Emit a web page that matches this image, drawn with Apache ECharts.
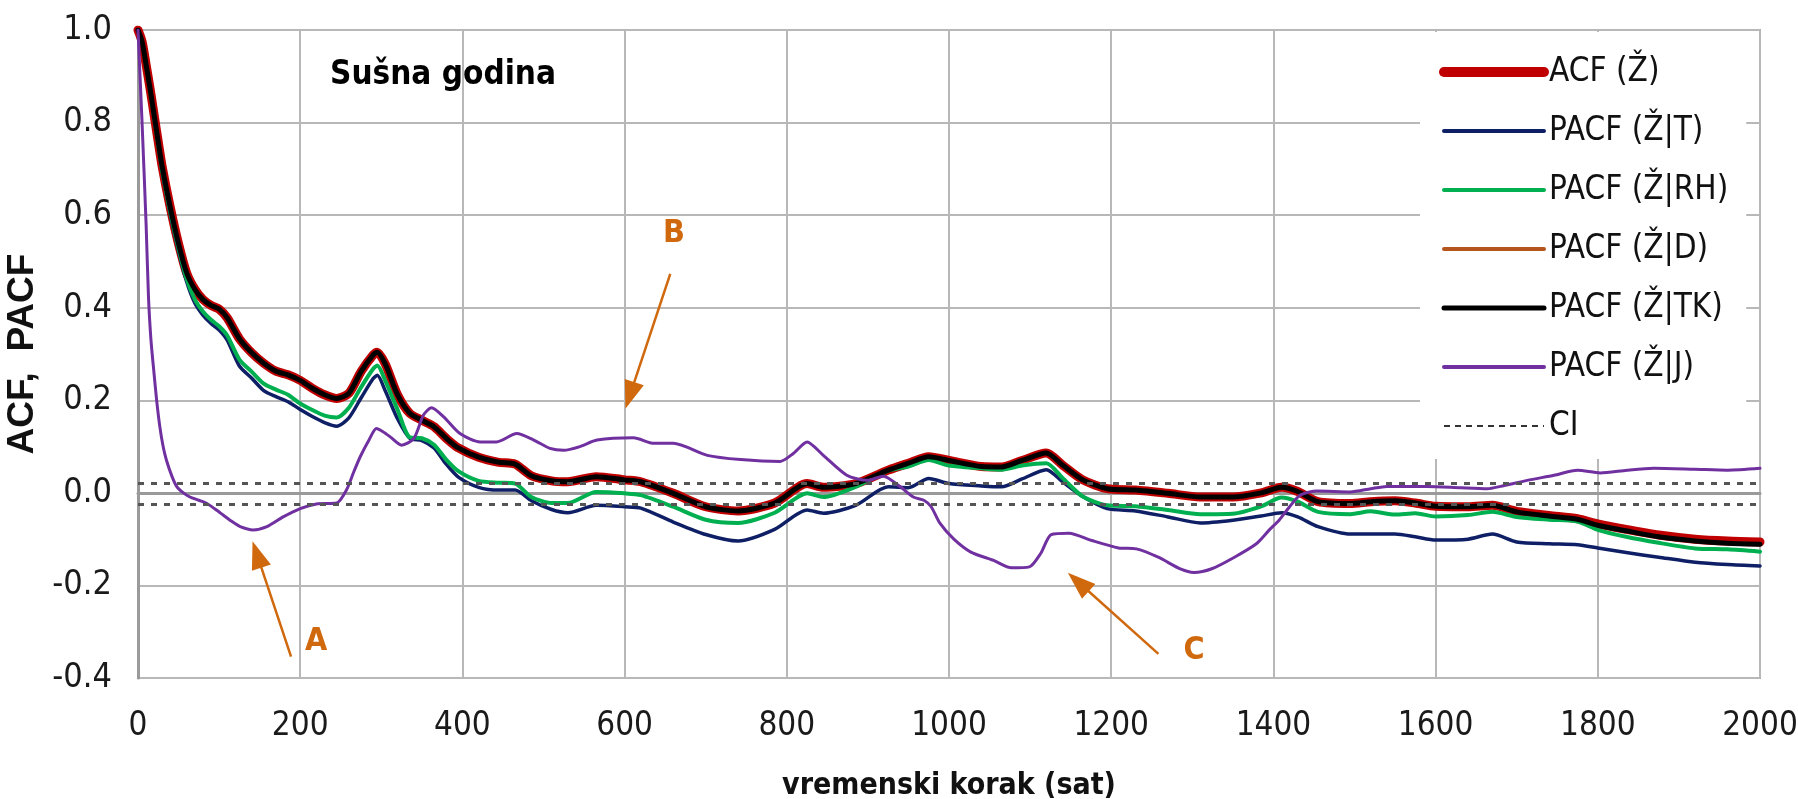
<!DOCTYPE html>
<html><head><meta charset="utf-8">
<script src="https://cdn.jsdelivr.net/npm/echarts@6/dist/echarts.min.js"></script>
<style>html,body{margin:0;padding:0;background:#fff}#c{width:1798px;height:799px}</style>
</head><body><div id="c"></div><script>
// ---- data ----
const lags = [0,5,10,15,20,25,30,40,50,60,70,80,90,100,110,
  125,140,155,170,185,200,215,230,245,260,275,290,295,305,320,335,350,365,380,395,
  420,445,465,485,510,530,565,600,620,660,700,740,785,825,845,885,925,950,975,1000,
  1040,1065,1090,1120,1140,1165,1195,1230,1270,1310,1350,1385,1410,1430,1455,1495,
  1520,1550,1575,1600,1640,1670,1700,1740,1775,1800,1835,1875,1920,1960,2000];
const acfZ = [1.0,0.975,0.925,0.872,0.815,0.758,0.703,0.615,0.538,0.475,0.44,0.418,0.405,0.397,0.378,
  0.333,0.303,0.28,0.263,0.255,0.243,0.226,0.212,0.204,0.215,0.262,0.298,0.304,0.278,0.212,0.172,0.157,0.143,0.118,0.097,
  0.077,0.066,0.062,0.037,0.026,0.024,0.035,0.028,0.024,-0.001,-0.030,-0.039,-0.022,0.020,0.012,0.020,0.049,0.064,0.078,0.070,
  0.057,0.056,0.070,0.086,0.060,0.028,0.009,0.006,-0.001,-0.009,-0.009,0.000,0.012,0.003,-0.019,-0.023,
  -0.019,-0.017,-0.022,-0.029,-0.030,-0.027,-0.040,-0.049,-0.056,-0.067,-0.079,-0.091,-0.100,-0.104,-0.106];
const pacfT = [1.0,0.975,0.925,0.868,0.808,0.75,0.692,0.6,0.522,0.456,0.41,0.384,0.366,0.352,0.33,
  0.274,0.248,0.221,0.208,0.197,0.18,0.165,0.152,0.144,0.162,0.205,0.247,0.254,0.22,0.16,0.118,0.113,0.097,0.062,0.034,
  0.012,0.006,0.006,-0.017,-0.036,-0.043,-0.027,-0.030,-0.033,-0.063,-0.090,-0.104,-0.079,-0.037,-0.044,-0.027,0.013,0.011,0.031,0.020,
  0.015,0.013,0.030,0.050,0.024,-0.008,-0.034,-0.039,-0.052,-0.065,-0.059,-0.050,-0.043,-0.052,-0.073,-0.089,
  -0.089,-0.089,-0.095,-0.102,-0.100,-0.089,-0.106,-0.110,-0.112,-0.119,-0.129,-0.139,-0.150,-0.155,-0.158];
const pacfRH = [1.0,0.975,0.925,0.87,0.81,0.752,0.695,0.605,0.528,0.462,0.418,0.392,0.374,0.36,0.34,
  0.288,0.262,0.236,0.223,0.212,0.193,0.179,0.167,0.163,0.184,0.228,0.268,0.275,0.242,0.18,0.12,0.118,0.104,0.072,0.047,
  0.026,0.022,0.020,-0.009,-0.022,-0.022,0.002,-0.001,-0.005,-0.030,-0.058,-0.065,-0.043,-0.001,-0.009,0.013,0.048,0.057,0.071,0.059,
  0.053,0.050,0.059,0.064,0.032,-0.008,-0.027,-0.029,-0.037,-0.046,-0.045,-0.029,-0.010,-0.019,-0.041,-0.046,
  -0.040,-0.047,-0.044,-0.051,-0.048,-0.041,-0.052,-0.058,-0.062,-0.080,-0.095,-0.108,-0.120,-0.122,-0.127];
const pacfD = [1.0,0.975,0.925,0.872,0.815,0.758,0.703,0.615,0.538,0.475,0.44,0.418,0.405,0.397,0.378,
  0.333,0.303,0.28,0.263,0.255,0.243,0.226,0.212,0.204,0.215,0.262,0.298,0.304,0.278,0.212,0.172,0.157,0.143,0.118,0.097,
  0.077,0.066,0.062,0.037,0.026,0.024,0.035,0.028,0.024,-0.001,-0.030,-0.039,-0.022,0.020,0.012,0.020,0.049,0.064,0.078,0.070,
  0.057,0.056,0.070,0.086,0.060,0.028,0.009,0.006,-0.001,-0.009,-0.009,0.000,0.012,0.003,-0.019,-0.023,
  -0.019,-0.017,-0.022,-0.029,-0.030,-0.027,-0.041,-0.050,-0.057,-0.069,-0.081,-0.094,-0.103,-0.108,-0.110];
const pacfTK = [1.0,0.975,0.925,0.872,0.815,0.758,0.703,0.615,0.538,0.475,0.44,0.418,0.405,0.397,0.378,
  0.333,0.303,0.28,0.263,0.255,0.243,0.226,0.212,0.204,0.215,0.262,0.298,0.304,0.278,0.212,0.172,0.157,0.143,0.118,0.097,
  0.077,0.066,0.062,0.037,0.026,0.024,0.035,0.028,0.024,-0.001,-0.030,-0.039,-0.022,0.020,0.012,0.020,0.049,0.064,0.078,0.070,
  0.057,0.056,0.070,0.086,0.060,0.028,0.009,0.006,-0.001,-0.009,-0.009,0.000,0.012,0.003,-0.019,-0.023,
  -0.019,-0.017,-0.022,-0.029,-0.030,-0.027,-0.041,-0.050,-0.057,-0.070,-0.082,-0.095,-0.104,-0.109,-0.111];
const lagsJ = [0,5,10,13,16,19,23,27,31,35,42,48,56,64,75,85,95,105,115,126,
  142,159,179,200,220,245,257,266,274,285,294,302,311,325,340,352,362,377,397,422,
  442,467,488,508,525,545,566,611,636,660,702,743,792,808,825,845,874,899,919,940,
  956,969,978,989,1006,1027,1055,1077,1099,1113,1126,1148,1176,1209,1231,1258,1286,1302,1324,1352,
  1379,1395,1407,1420,1433,1454,1495,1520,1540,1590,1631,1664,1680,1713,1746,1775,1803,1836,1869,1919,1960,2000];
const pacfJ = [1.0,0.80,0.58,0.42,0.33,0.272,0.2,0.142,0.1,0.071,0.035,0.013,0.0,-0.009,-0.016,-0.023,-0.035,-0.048,-0.061,-0.073,
  -0.080,-0.073,-0.052,-0.034,-0.024,-0.022,0.006,0.045,0.078,0.115,0.139,0.132,0.121,0.103,0.117,0.168,0.184,0.164,0.128,0.110,
  0.110,0.128,0.114,0.096,0.092,0.100,0.114,0.119,0.107,0.107,0.081,0.072,0.068,0.085,0.110,0.081,0.038,0.027,0.036,0.013,
  -0.009,-0.016,-0.030,-0.066,-0.100,-0.128,-0.146,-0.162,-0.160,-0.131,-0.090,-0.087,-0.103,-0.119,-0.121,-0.139,-0.165,-0.172,-0.164,-0.139,
  -0.110,-0.080,-0.059,-0.030,-0.005,0.004,0.002,0.009,0.014,0.014,0.011,0.009,0.014,0.027,0.038,0.049,0.043,0.049,0.053,0.051,0.049,0.053];
const ciUpper = 0.020, ciLower = -0.025;
const xRange = [0, 2000];
const seriesNames = ['ACF (Ž)','PACF (Ž|T)','PACF (Ž|RH)','PACF (Ž|D)','PACF (Ž|TK)','PACF (Ž|J)','CI'];
const noteLabels = ['A','B','C'];
const noteLabelAt = [[219.6,-0.322],[660.8,0.56],[1302.3,-0.341]];
const noteFrom = [[188.7,-0.354],[656.3,0.473],[1258.2,-0.348]];
const noteTo = [[146.7,-0.133],[606.5,0.2105],[1159.4,-0.1926]];

// ---- chart ----
const NARROW = "'DejaVu Sans Condensed','Liberation Sans Narrow','Arial Narrow',sans-serif";
const pairs = (xs, ys) => xs.map((x, i) => [x, ys[i]]);
const ORANGE = '#d0690e';
const COLORS = ['#c00000', '#0f1f66', '#00b050', '#b4561c', '#000000', '#7030a0', '#555555'];
const WIDTHS = [9, 3.5, 4, 3, 5, 3];
const LEGEND_W = [10, 4, 4, 4, 5, 4];
const line = (i, xs, ys, z) => ({
  name: seriesNames[i], type: 'line', data: pairs(xs, ys), symbol: 'none', smooth: 0.25, z,
  lineStyle: { color: COLORS[i], width: WIDTHS[i], cap: 'round', join: 'round' }, itemStyle: { color: COLORS[i] },
  animation: false, silent: true
});
const chart = echarts.init(document.getElementById('c'), null, { renderer: 'canvas' });
chart.setOption({
  animation: false,
  backgroundColor: '#ffffff',
  grid: { left: 138, right: 38, top: 30, bottom: 121, show: true, borderColor: '#a8a8a8', borderWidth: 2,
    containLabel: false, outerBoundsMode: 'none' },
  xAxis: {
    type: 'value', min: xRange[0], max: xRange[1], interval: 200,
    name: 'vremenski korak (sat)', nameLocation: 'middle', nameGap: 93,
    nameTextStyle: { fontFamily: NARROW, fontWeight: 'bold', fontSize: 30, color: '#111' },
    axisLine: { show: true, lineStyle: { color: '#9a9a9a', width: 3 } },
    axisTick: { show: false },
    axisLabel: { fontFamily: NARROW, fontSize: 33, color: '#1a1a1a', margin: 32, formatter: v => String(v) },
    splitLine: { show: true, lineStyle: { color: '#b8b8b8', width: 2 } }
  },
  yAxis: {
    type: 'value', min: -0.4, max: 1.0, interval: 0.2,
    name: 'ACF,  PACF', nameLocation: 'middle', nameGap: 86,
    nameTextStyle: { fontFamily: "'Liberation Sans',Arial,sans-serif", fontWeight: 'bold', fontSize: 37, color: '#111' },
    axisLine: { show: true, lineStyle: { color: '#9a9a9a', width: 3 } },
    axisTick: { show: false },
    axisLabel: { fontFamily: NARROW, fontSize: 34, color: '#1a1a1a', margin: 26,
      formatter: v => (Math.abs(v) < 1e-9 ? 0 : v).toFixed(1) },
    splitLine: { show: true, lineStyle: { color: '#b8b8b8', width: 2 } }
  },
  legend: {
    orient: 'vertical', left: 1420, top: 32, itemWidth: 100, itemHeight: 14, itemGap: 19,
    padding: [20, 18, 13, 19], backgroundColor: '#ffffff',
    itemStyle: { opacity: 0, borderWidth: 0 },
    textStyle: { fontFamily: NARROW, fontSize: 33, color: '#111', lineHeight: 40 },
    data: seriesNames.map((n, i) => n === 'CI'
      ? { name: n, itemStyle: { opacity: 0 }, lineStyle: { width: 2, type: [6, 5], color: '#333' } }
      : { name: n, itemStyle: { opacity: 0 }, lineStyle: { width: LEGEND_W[i], cap: 'round' } })
  },
  graphic: [{
    type: 'text', x: 443, y: 75, z: 50,
    style: { text: 'Sušna godina', font: "bold 33px " + NARROW, fill: '#000',
      align: 'center', verticalAlign: 'middle', textAlign: 'center', textVerticalAlign: 'middle' }
  }],
  series: [
    line(0, lags, acfZ, 2),
    line(1, lags, pacfT, 3),
    line(2, lags, pacfRH, 3),
    line(3, lags, pacfD, 3),
    line(4, lags, pacfTK, 4),
    line(5, lagsJ, pacfJ, 5),
    { name: 'CI', type: 'line', symbol: 'none', z: 6, silent: true, animation: false,
      data: [[xRange[0], ciUpper], [xRange[1], ciUpper]],
      lineStyle: { color: '#555555', width: 3, type: [6, 7] }, itemStyle: { color: '#555555' } },
    { name: 'CI', type: 'line', symbol: 'none', z: 6, silent: true, animation: false,
      data: [[xRange[0], ciLower], [xRange[1], ciLower]],
      lineStyle: { color: '#555555', width: 3, type: [6, 7] }, itemStyle: { color: '#555555' } },
    { name: 'notes', type: 'scatter', z: 8, silent: true, animation: false,
      symbolSize: 1, itemStyle: { color: 'rgba(0,0,0,0)' },
      data: noteLabels.map((t, i) => ({ name: t, value: noteLabelAt[i] })),
      label: { show: true, position: 'inside', formatter: '{b}', fontFamily: NARROW,
        fontWeight: 'bold', fontSize: 32, color: ORANGE, opacity: 1 },
      markLine: {
        silent: true, animation: false, symbol: ['none', 'triangle'], symbolSize: [20, 28],
        label: { show: false }, lineStyle: { color: ORANGE, width: 2.5, type: 'solid' },
        itemStyle: { color: ORANGE },
        data: noteLabels.map((t, i) => [{ coord: noteFrom[i] }, { coord: noteTo[i] }])
      }
    }
  ]
});
</script></body></html>
